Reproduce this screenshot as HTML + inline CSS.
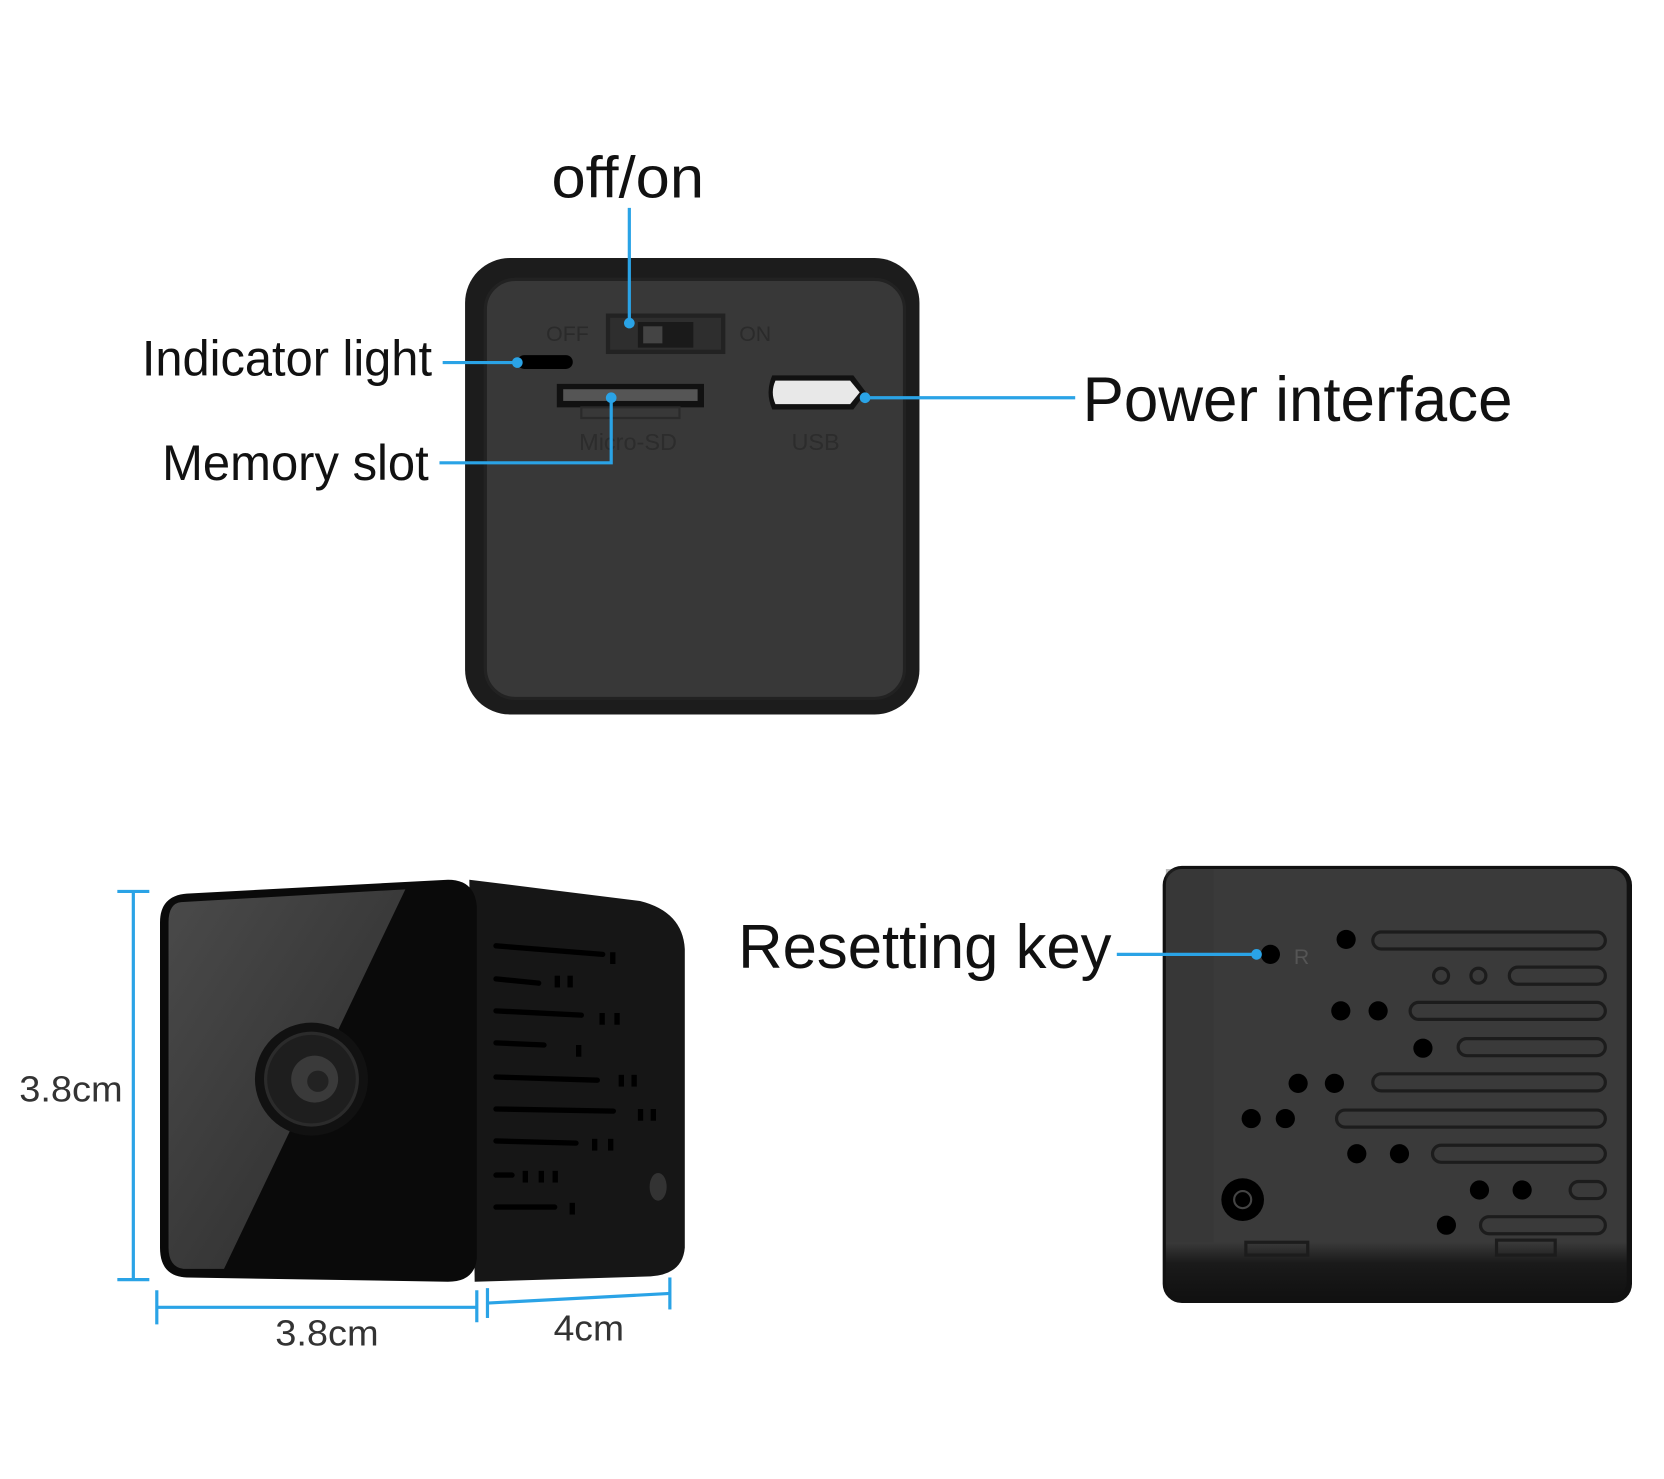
<!DOCTYPE html>
<html><head><meta charset="utf-8"><style>
html,body{margin:0;padding:0;background:#fff;}
svg{display:block;}
text{font-family:"Liberation Sans",sans-serif;fill:#111;}
</style></head><body>
<svg width="1664" height="1479" viewBox="0 0 1560 1387" preserveAspectRatio="none" xmlns="http://www.w3.org/2000/svg">
<defs>
<linearGradient id="gl" x1="0" y1="0" x2="1" y2="1">
<stop offset="0" stop-color="#4a4a4a"/><stop offset="1" stop-color="#2a2a2a"/></linearGradient>
<linearGradient id="rb" x1="0" y1="0" x2="0" y2="1">
<stop offset="0" stop-color="#3a3a3a"/><stop offset="0.87" stop-color="#3a3a3a"/><stop offset="0.92" stop-color="#1a1a1a"/><stop offset="1" stop-color="#111"/></linearGradient>
</defs>
<rect width="1560" height="1387" fill="#fff"/>

<!-- Top device -->
<rect x="436" y="242" width="426" height="428" rx="42" fill="#1c1c1c"/>
<rect x="455" y="262" width="393" height="393" rx="28" fill="#383838" stroke="#222" stroke-width="3"/>
<text x="512" y="320" font-size="20" style="fill:#2a2a2a">OFF</text>
<text x="693" y="320" font-size="20" style="fill:#2a2a2a">ON</text>
<rect x="568" y="294" width="112" height="38" fill="#222"/>
<rect x="572" y="298" width="104" height="30" fill="#2e2e2e"/>
<rect x="598" y="302" width="52" height="24" fill="#1a1a1a"/>
<rect x="603" y="306" width="18" height="16" fill="#444"/>
<rect x="485" y="333" width="52" height="13" rx="6.5" fill="#000"/>
<rect x="522" y="360" width="138" height="22" fill="#111"/>
<rect x="528" y="365" width="126" height="11" fill="#555"/>
<rect x="545" y="382" width="92" height="10" fill="none" stroke="#2a2a2a" stroke-width="2"/>
<text x="543" y="422" font-size="22" style="fill:#2c2c2c">Micro-SD</text>
<text x="742" y="422" font-size="22" style="fill:#2c2c2c">USB</text>
<path d="M724 352 H800 L812 368 L800 384 H724 Q717 368 724 352Z" fill="#111"/>
<path d="M727 357 H797 L806 368 L797 379 H727 Q722 368 727 357Z" fill="#e8e8e8"/>

<text x="517" y="185" font-size="55" textLength="143" lengthAdjust="spacingAndGlyphs">off/on</text>
<text x="133" y="352" font-size="47" textLength="272" lengthAdjust="spacingAndGlyphs">Indicator light</text>
<text x="152" y="450" font-size="47" textLength="250" lengthAdjust="spacingAndGlyphs">Memory slot</text>
<text x="1015" y="395" font-size="59" textLength="403" lengthAdjust="spacingAndGlyphs">Power interface</text>
<text x="692" y="908" font-size="58" textLength="350" lengthAdjust="spacingAndGlyphs">Resetting key</text>

<!-- Bottom-left cube -->
<path d="M440 825 L600 845 Q640 855 642 890 L642 1170 Q640 1195 610 1197 L445 1202 Z" fill="#161616"/>
<path d="M175 838 L420 825 Q445 825 447 850 L447 1180 Q445 1202 420 1202 L175 1198 Q150 1197 150 1170 L150 865 Q150 840 175 838Z" fill="#0a0a0a"/>
<path d="M170 846 L380 834 L210 1190 L172 1190 Q158 1188 158 1170 L158 865 Q158 847 170 846Z" fill="url(#gl)"/>
<g stroke="#000" stroke-width="5" stroke-linecap="round">
<line x1="465" y1="887" x2="565" y2="895"/><line x1="465" y1="918" x2="505" y2="922"/><line x1="465" y1="948" x2="545" y2="952"/>
<line x1="465" y1="978" x2="510" y2="980"/><line x1="465" y1="1010" x2="560" y2="1013"/><line x1="465" y1="1040" x2="575" y2="1042"/>
<line x1="465" y1="1070" x2="540" y2="1072"/><line x1="465" y1="1102" x2="480" y2="1102"/><line x1="465" y1="1132" x2="520" y2="1132"/>
</g>
<g fill="#000">
<rect x="572" y="893" width="5" height="11"/><rect x="520" y="915" width="5" height="11"/><rect x="532" y="915" width="5" height="11"/>
<rect x="562" y="950" width="5" height="11"/><rect x="576" y="950" width="5" height="11"/><rect x="540" y="980" width="5" height="11"/>
<rect x="580" y="1008" width="5" height="11"/><rect x="592" y="1008" width="5" height="11"/><rect x="598" y="1040" width="5" height="11"/><rect x="610" y="1040" width="5" height="11"/>
<rect x="555" y="1068" width="5" height="11"/><rect x="570" y="1068" width="5" height="11"/>
<rect x="490" y="1098" width="5" height="11"/><rect x="505" y="1098" width="5" height="11"/><rect x="518" y="1098" width="5" height="11"/><rect x="534" y="1128" width="5" height="11"/>
</g>
<ellipse cx="617" cy="1113" rx="8" ry="13" fill="#333"/>
<circle cx="292" cy="1012" r="53" fill="#111"/>
<circle cx="292" cy="1012" r="43" fill="#1e1e1e" stroke="#2b2b2b" stroke-width="3"/>
<circle cx="295" cy="1012" r="22" fill="#3a3a3a"/>
<circle cx="298" cy="1014" r="10" fill="#222"/>

<!-- dimension lines -->
<g stroke="#2aa3e6" stroke-width="3" fill="none">
<line x1="125" y1="836" x2="125" y2="1200"/><line x1="110" y1="836" x2="140" y2="836"/><line x1="110" y1="1200" x2="140" y2="1200"/>
<line x1="147" y1="1226" x2="447" y2="1226"/><line x1="147" y1="1210" x2="147" y2="1242"/><line x1="447" y1="1210" x2="447" y2="1240"/>
<line x1="457" y1="1222" x2="628" y2="1213"/><line x1="457" y1="1208" x2="457" y2="1236"/><line x1="628" y1="1198" x2="628" y2="1228"/>
</g>
<text x="18" y="1033" font-size="34" textLength="97" lengthAdjust="spacingAndGlyphs" style="fill:#333">3.8cm</text>
<text x="258" y="1262" font-size="34" textLength="97" lengthAdjust="spacingAndGlyphs" style="fill:#333">3.8cm</text>
<text x="519" y="1257" font-size="34" textLength="66" lengthAdjust="spacingAndGlyphs" style="fill:#333">4cm</text>

<!-- Bottom-right device -->
<rect x="1090" y="812" width="440" height="410" rx="18" fill="#111"/>
<rect x="1093" y="815" width="432" height="402" rx="15" fill="url(#rb)"/>
<rect x="1093" y="815" width="45" height="350" fill="#333" opacity="0.35"/>
<g fill="none" stroke="#1c1c1c" stroke-width="3">
<rect x="1287" y="874" width="218" height="16" rx="8"/>
<rect x="1415" y="907" width="90" height="16" rx="8"/>
<rect x="1322" y="940" width="183" height="16" rx="8"/>
<rect x="1367" y="974" width="138" height="16" rx="8"/>
<rect x="1287" y="1007" width="218" height="16" rx="8"/>
<rect x="1253" y="1041" width="252" height="16" rx="8"/>
<rect x="1343" y="1074" width="162" height="16" rx="8"/>
<rect x="1472" y="1108" width="33" height="16" rx="8"/>
<rect x="1388" y="1141" width="117" height="16" rx="8"/>
<rect x="1168" y="1165" width="58" height="12"/>
<rect x="1403" y="1163" width="55" height="14"/>
<circle cx="1351" cy="915" r="7"/><circle cx="1386" cy="915" r="7"/>
</g>
<g fill="#000">
<circle cx="1191" cy="895" r="9"/><circle cx="1262" cy="881" r="9"/>
<circle cx="1257" cy="948" r="9"/><circle cx="1292" cy="948" r="9"/><circle cx="1334" cy="983" r="9"/>
<circle cx="1217" cy="1016" r="9"/><circle cx="1251" cy="1016" r="9"/><circle cx="1173" cy="1049" r="9"/><circle cx="1205" cy="1049" r="9"/>
<circle cx="1272" cy="1082" r="9"/><circle cx="1312" cy="1082" r="9"/><circle cx="1387" cy="1116" r="9"/><circle cx="1427" cy="1116" r="9"/><circle cx="1356" cy="1149" r="9"/>
<circle cx="1165" cy="1125" r="20"/>
</g>
<circle cx="1165" cy="1125" r="8" fill="none" stroke="#444" stroke-width="2"/>
<text x="1213" y="904" font-size="20" style="fill:#555">R</text>

<!-- connectors (on top) -->
<g stroke="#2aa3e6" stroke-width="3" fill="none">
<line x1="590" y1="195" x2="590" y2="303"/>
<line x1="415" y1="340" x2="485" y2="340"/>
<polyline points="412,434 573,434 573,373"/>
<line x1="810" y1="373" x2="1008" y2="373"/>
<line x1="1047" y1="895" x2="1180" y2="895"/>
</g>
<g fill="#2aa3e6">
<circle cx="590" cy="303" r="5"/><circle cx="485" cy="340" r="5"/><circle cx="573" cy="373" r="5"/><circle cx="811" cy="373" r="5"/><circle cx="1178" cy="895" r="5"/>
</g>
</svg>
</body></html>
